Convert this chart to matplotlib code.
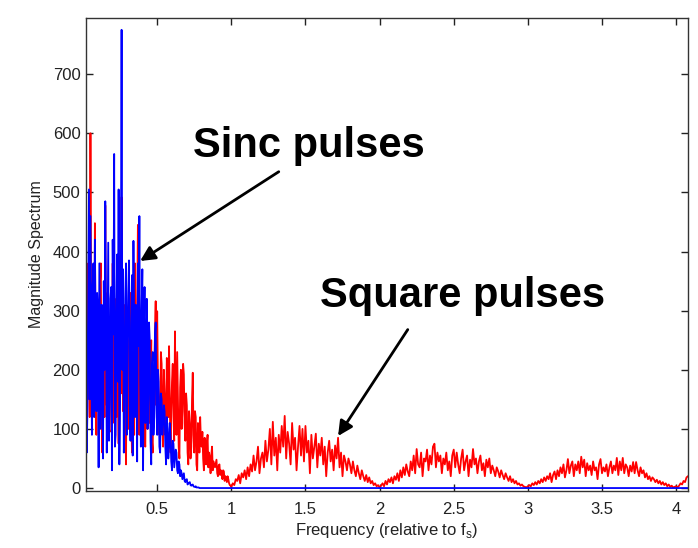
import numpy as np
import matplotlib
matplotlib.use("Agg")
import matplotlib.pyplot as plt

plt.rcParams['font.family'] = ['Liberation Sans', 'DejaVu Sans']

# frequency grids (relative to fs): finer below 1, coarser above
low_start, low_stop, n_low = 0.02, 0.995, 196     # step 0.005
high_start, high_stop, n_high = 1.0, 4.08, 309     # step 0.01

# square pulses, 0.02 .. 0.995 (step 0.005)
square_low = [
    340, 200, 150, 380, 280, 120, 600, 250, 120, 280, 330, 140, 448, 200, 90, 310, 250, 130, 170, 350,
    380, 150, 60, 270, 230, 120, 478, 210, 140, 330, 300, 100, 95, 290, 260, 150, 380, 200, 110, 320,
    200, 120, 340, 180, 75, 280, 392, 160, 492, 220, 130, 310, 280, 110, 40, 260, 250, 100, 170, 300,
    330, 130, 60, 250, 210, 90, 380, 200, 120, 300, 445, 150, 90, 280, 270, 110, 150, 260, 200, 80,
    70, 240, 230, 100, 160, 210, 110, 190, 250, 80, 60, 200, 180, 260, 316, 140, 299, 180, 150, 90,
    120, 230, 210, 100, 70, 200, 160, 90, 110, 220, 190, 120, 240, 150, 60, 130, 180, 210, 120, 80,
    265, 140, 90, 230, 150, 70, 50, 170, 200, 100, 130, 210, 192, 110, 80, 160, 140, 60, 40, 130,
    110, 50, 70, 150, 195, 90, 60, 130, 120, 40, 30, 110, 100, 60, 120, 80, 70, 95, 50, 30,
    85, 60, 40, 75, 90, 35, 60, 50, 25, 55, 70, 30, 45, 40, 35, 42, 48, 25, 20, 38,
    40, 22, 30, 25, 15, 30, 28, 12, 20, 18, 10, 20, 15, 8, 5, 4,
]

# square pulses, 1.00 .. 4.08 (step 0.01)
square_high = [
    2, 8,
    5, 15, 12, 22, 8, 25, 18, 30, 15, 35,
    20, 40, 28, 55, 30, 45, 70, 25, 50, 60,
    35, 80, 45, 65, 100, 40, 112, 55, 85, 30,
    90, 60, 105, 70, 122, 50, 95, 75, 40, 110,
    65, 85, 30, 70, 105, 55, 100, 45, 105, 60,
    80, 25, 90, 50, 70, 92, 35, 75, 55, 85,
    40, 70, 20, 60, 80, 45, 65, 30, 72, 50,
    85, 35, 60, 20, 55, 45, 30, 50, 40, 25,
    45, 30, 20, 38, 25, 15, 30, 20, 12, 22,
    10, 18, 8, 12, 5, 8, 3, 5, 1, 4,
    8, 3, 12, 6, 15, 10, 18, 8, 20, 14,
    25, 12, 30, 18, 35, 22, 40, 28, 20, 45,
    30, 55, 25, 66, 40, 35, 60, 20, 50, 45,
    65, 30, 55, 40, 70, 75, 35, 60, 45, 55,
    25, 50, 40, 60, 30, 45, 20, 55, 65, 35,
    60, 40, 25, 50, 65, 30, 45, 55, 20, 48,
    35, 66, 40, 50, 25, 45, 55, 30, 42, 20,
    48, 35, 50, 25, 38, 30, 20, 35, 28, 18,
    30, 22, 15, 25, 18, 12, 20, 10, 15, 8,
    12, 6, 8, 4, 6, 3, 2, 1, 3, 5,
    3, 8, 5, 10, 6, 12, 8, 15, 10, 18,
    12, 20, 15, 25, 10, 22, 28, 15, 30, 20,
    35, 25, 40, 18, 30, 49, 25, 38, 45, 20,
    40, 30, 45, 25, 53, 35, 48, 20, 42, 30,
    38, 22, 45, 30, 35, 15, 40, 49, 25, 35,
    28, 40, 20, 35, 45, 25, 38, 30, 51, 22,
    45, 30, 51, 25, 40, 35, 20, 38, 28, 44,
    25, 44, 30, 20, 35, 25, 30, 18, 25, 15,
    20, 12, 18, 15, 10, 14, 8, 12, 6, 10,
    5, 8, 3, 6, 2, 4, 1, 2, 3, 1,
    4, 8, 6, 12, 10, 18, 20,
]

# sinc pulses, 0.02 .. 0.80 (step 0.005); zero beyond
sinc_low = [
    320, 60, 140, 330, 505, 150, 460, 280, 90, 340, 380, 120, 420, 250, 130, 330, 300, 35, 380, 230,
    100, 310, 270, 50, 350, 200, 485, 290, 60, 240, 415, 80, 150, 320, 340, 30, 420, 260, 565, 70,
    90, 300, 395, 180, 505, 40, 160, 340, 775, 200, 370, 60, 110, 320, 380, 90, 250, 330, 385, 140,
    80, 280, 360, 55, 418, 230, 120, 310, 300, 45, 380, 240, 460, 180, 70, 300, 370, 30, 260, 340,
    110, 200, 320, 100, 150, 280, 250, 80, 40, 210, 230, 90, 120, 260, 280, 140, 90, 200, 180, 70,
    60, 160, 150, 90, 110, 140, 130, 70, 40, 120, 100, 50, 70, 110, 85, 45, 30, 80, 75, 35,
    50, 65, 60, 30, 25, 45, 40, 20, 30, 25, 15, 20, 25, 12, 10, 14, 15, 6, 8, 9,
    10, 5, 4, 5, 6, 3, 2, 2, 3, 1, 1, 1, 1, 0, 0, 0, 0,
]

xtick_vals = [0.5, 1, 1.5, 2, 2.5, 3, 3.5, 4]
xtick_labels = ['0.5', '1', '1.5', '2', '2.5', '3', '3.5', '4']
ytick_vals = [0, 100, 200, 300, 400, 500, 600, 700]

freq = np.concatenate([np.linspace(low_start, low_stop, n_low),
                       np.linspace(high_start, high_stop, n_high)])
square_mag = np.array(square_low + square_high, dtype=float)
sinc_mag = np.array(sinc_low + [0] * (len(freq) - len(sinc_low)), dtype=float)

fig = plt.figure(figsize=(6.98, 5.48), dpi=100)
ax = fig.add_axes([86 / 698, 1 - 491 / 548, 602 / 698, 473 / 548])

ax.plot(freq, square_mag, color='red', lw=1.3)
ax.plot(freq, sinc_mag, color='blue', lw=1.3)

ax.set_xlim(low_start, high_stop)
ax.set_ylim(-5, 795)
ax.set_xticks(xtick_vals)
ax.set_xticklabels(xtick_labels)
ax.set_yticks(ytick_vals)
ax.tick_params(direction='in', top=True, right=True, length=5, width=1,
               labelsize=12, colors='#222222')
ax.tick_params(axis='x', pad=8)
ax.tick_params(axis='y', pad=4)
for sp in ax.spines.values():
    sp.set_color('#333333')
    sp.set_linewidth(1)

ax.set_xlabel('Frequency (relative to f$_\\mathregular{s}$)', fontsize=12, color='#222222',
              labelpad=3)
ax.set_ylabel('Magnitude Spectrum', fontsize=11.5, color='#222222', labelpad=6)

# callouts
fig.text(193 / 698, 1 - 157 / 548, 'Sinc pulses', fontsize=30, fontweight='bold',
         ha='left', va='baseline')
fig.text(320 / 698, 1 - 307 / 548, 'Square pulses', fontsize=30, fontweight='bold',
         ha='left', va='baseline')
arrow = dict(arrowstyle='-|>', color='black', lw=2, mutation_scale=22, shrinkA=0, shrinkB=0)
ax.annotate('', xy=(0.385, 384), xytext=(1.32, 535), arrowprops=arrow)
ax.annotate('', xy=(1.72, 88), xytext=(2.19, 268), arrowprops=arrow)

fig.savefig('out.png', dpi=100)
